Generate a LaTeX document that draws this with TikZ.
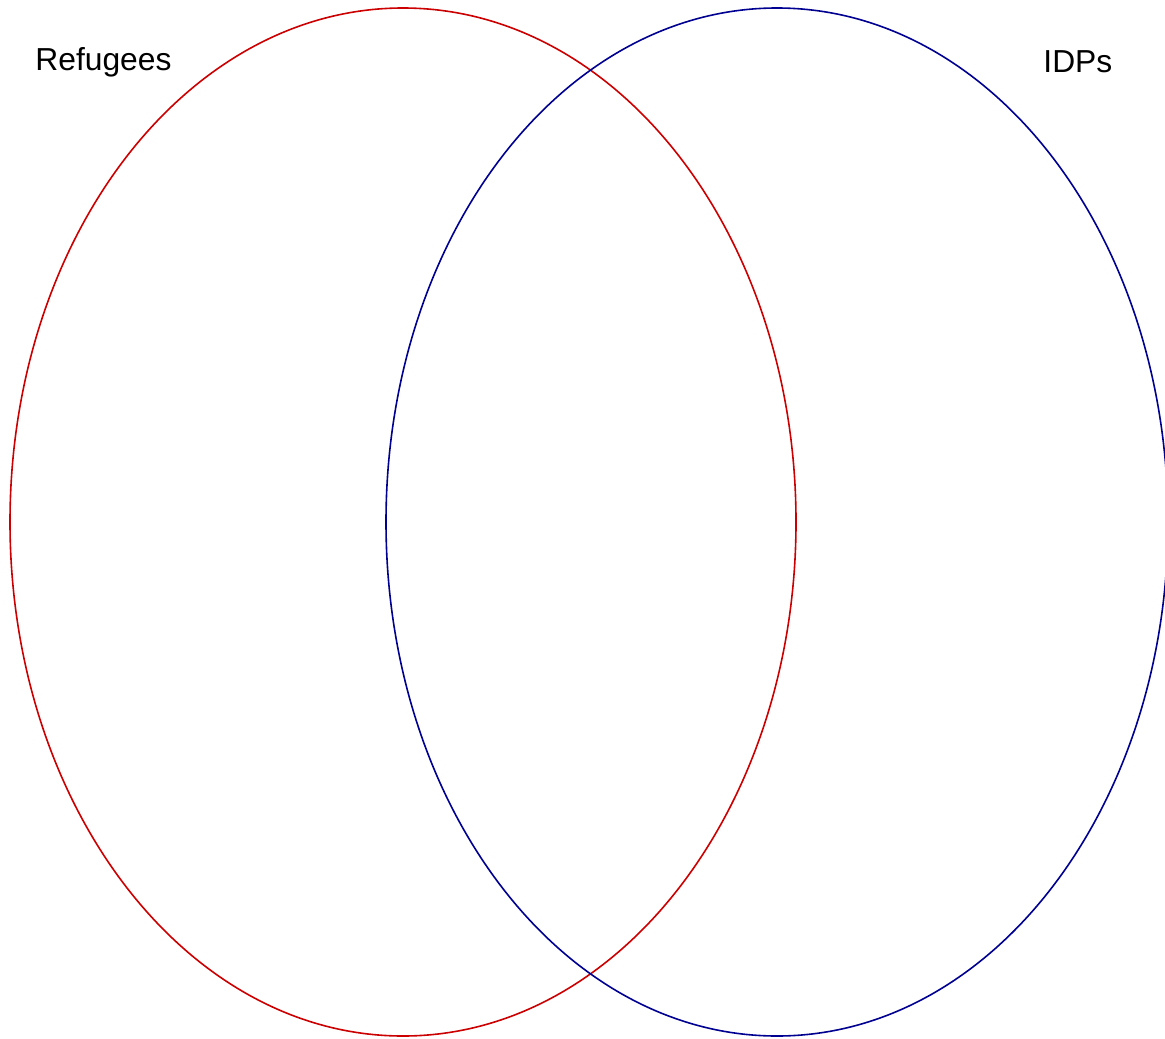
\documentclass[tikz,border=0pt]{standalone}
\usepackage{fontspec}
\setmainfont{Liberation Sans}
\usepackage{tikz}
\usetikzlibrary{shapes.geometric}
\definecolor{refred}{RGB}{204,0,0}
\definecolor{idpblue}{RGB}{0,0,145}

\begin{document}
\begin{tikzpicture}[x=0.5pt, y=-0.5pt, set/.style={draw, ellipse, inner sep=0pt, minimum width=393pt, minimum height=514pt, line width=0.8pt}, lbl/.style={anchor=base west, inner sep=0pt, font=\fontsize{15.9}{18}\selectfont}]
                \useasboundingbox (0,0) rectangle (1165,1038);
                % sets
                \node[set, refred]  (refugees) at (403,522) {};
                \node[set, idpblue, minimum width=391pt] (idps) at (777,522) {};
                % labels
                \node[lbl] (reflabel) at (35,71) {Refugees};
                \node[lbl] (idplabel) at (1043,73) {IDPs};
            \end{tikzpicture}
\end{document}
